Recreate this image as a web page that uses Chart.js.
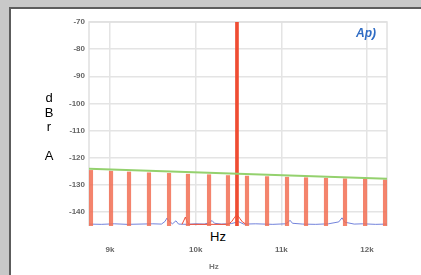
<!DOCTYPE html>
<html>
<head>
<meta charset="utf-8">
<script src="https://cdn.jsdelivr.net/npm/chart.js@4/dist/chart.umd.min.js"></script>
<style>
  html, body { margin: 0; padding: 0; }
  body { width: 421px; height: 275px; background: #c8c8c8; position: relative; overflow: hidden; font-family: "Liberation Sans", "DejaVu Sans", sans-serif; }
  #panel { position: absolute; left: 9px; top: 7px; right: 0; bottom: 0; background: #fff; border-left: 2px solid #5c5c5c; border-top: 2px solid #5c5c5c; }
  #chart { position: absolute; left: 0; top: 0; filter: blur(0.6px); }
  .box { position: absolute; background: #fff; color: #000; font-size: 13px; }
  #xtitle-box { left: 52px; top: 226px; width: 336px; height: 20px; }
  #xtitle-box span { position: absolute; left: 158px; top: 3px; }
  #ytitle { left: 40px; top: 91px; width: 18px; text-align: center; line-height: 14.5px; }
  #xtitle-blur { position: absolute; left: 209px; top: 262px; font-size: 8px; font-weight: bold; color: #777; filter: blur(0.6px); }
  #logo { position: absolute; left: 356px; top: 26px; font-size: 12px; font-weight: bold; font-style: italic; color: #2f6cc4; filter: blur(0.4px); }
</style>
</head>
<body>
<div id="panel"></div>
<canvas id="chart" width="421" height="275"></canvas>
<div id="logo">Ap&#41;</div>
<div class="box" id="ytitle">d<br>B<br>r<br>&nbsp;<br>A</div>
<div class="box" id="xtitle-box"><span>Hz</span></div>
<div id="xtitle-blur">Hz</div>
<script>
// Axis ticks
const xTicks = [9000, 10000, 11000, 12000];
const xTickLabels = ['9k', '10k', '11k', '12k'];
const yTicks = [-150, -140, -130, -120, -110, -100, -90, -80, -70];

// Main tone
const toneFreq = [10482];
const toneDb = [-70];

// Spurious components (red bars)
const spurFreq = [8778, 9012, 9222, 9455, 9689, 9910, 10156, 10377, 10599, 10833, 11066, 11288, 11521, 11743, 11977, 12210];
const spurDb = [-124.7, -125.0, -125.3, -125.6, -125.8, -126.1, -126.3, -126.6, -126.8, -127.0, -127.2, -127.4, -127.6, -127.8, -128.0, -128.2];

// Limit line (green)
const limitFreq = [8755, 12233];
const limitDb = [-124.1, -127.8];

// Noise floor, other channel (blue)
const blueFreq = [8760, 8900, 9050, 9200, 9350, 9500, 9600, 9640, 9665, 9690, 9730, 9770, 9800, 9900, 10000, 10100, 10160, 10191, 10220, 10300, 10420, 10500, 10560, 10700, 10900, 11050, 11080, 11101, 11130, 11250, 11400, 11550, 11670, 11708, 11740, 11850, 11950, 12100, 12230];
const blueDb = [-144.5, -144.6, -144.4, -144.6, -144.5, -144.4, -144.5, -143.6, -142.3, -143.5, -144.4, -143.3, -144.5, -144.6, -144.4, -144.5, -144.0, -143.2, -144.2, -144.5, -144.3, -143.6, -144.5, -144.4, -144.6, -144.4, -143.8, -143.1, -144.2, -144.5, -144.6, -144.4, -143.7, -142.2, -143.8, -144.5, -144.4, -144.6, -144.5];

// Noise skirt, red channel
const redFreq = [9840, 9865, 9880, 9895, 9920, 10380, 10420, 10450, 10470, 10482, 10495, 10515, 10545, 10590];
const redDb = [-144.6, -143.0, -141.9, -143.2, -144.6, -144.6, -143.6, -142.2, -141.4, -141.0, -141.5, -142.4, -143.7, -144.6];

const toXY = (xs, ys) => xs.map((x, i) => ({ x: x, y: ys[i] }));
const toBars = (xs, ys) => xs.map((x, i) => ({ x: x, y: [-150, ys[i]] }));

const frame = {
  id: 'frame',
  beforeDatasetsDraw(chart) {
    const a = chart.chartArea;
    const ctx = chart.ctx;
    ctx.save();
    ctx.strokeStyle = '#e0e0e0';
    ctx.lineWidth = 1.5;
    ctx.strokeRect(a.left, a.top, a.right - a.left, a.bottom - a.top);
    ctx.restore();
  }
};

new Chart(document.getElementById('chart'), {
  type: 'bar',
  data: {
    datasets: [
      {
        type: 'line',
        data: toXY(blueFreq, blueDb),
        borderColor: 'rgba(80, 100, 210, 0.8)',
        borderWidth: 1,
        pointRadius: 0,
        order: 4
      },
      {
        type: 'line',
        data: toXY(redFreq, redDb),
        borderColor: '#ee4a34',
        borderWidth: 1,
        pointRadius: 0,
        order: 3
      },
      {
        data: toBars(spurFreq, spurDb),
        backgroundColor: 'rgba(242, 110, 84, 0.85)',
        barThickness: 3.5,
        grouped: false,
        order: 2
      },
      {
        data: toBars(toneFreq, toneDb),
        backgroundColor: '#ef4d33',
        barThickness: 3,
        grouped: false,
        order: 1
      },
      {
        type: 'line',
        data: toXY(limitFreq, limitDb),
        borderColor: '#94d16e',
        borderWidth: 2,
        pointRadius: 0,
        order: 0
      }
    ]
  },
  options: {
    responsive: false,
    animation: false,
    layout: { padding: { top: 22, right: 34, left: 0, bottom: 0 } },
    plugins: { legend: { display: false }, tooltip: { enabled: false } },
    scales: {
      x: {
        type: 'linear',
        offset: false,
        min: 8755,
        max: 12233,
        afterFit: s => { s.height = 36; },
        afterBuildTicks: s => { s.ticks = xTicks.map(v => ({ value: v })); },
        grid: { color: '#e4e4e4', lineWidth: 1.5, drawTicks: false, offset: false },
        border: { display: false },
        ticks: {
          padding: 6,
          color: '#666',
          font: { family: 'Liberation Sans', size: 8, weight: 'bold' },
          maxRotation: 0,
          callback: v => xTickLabels[xTicks.indexOf(v)]
        }
      },
      y: {
        min: -150,
        max: -70,
        afterFit: s => { s.width = 89; },
        afterBuildTicks: s => { s.ticks = yTicks.map(v => ({ value: v })); },
        grid: { color: '#e4e4e4', lineWidth: 1.5, drawTicks: false },
        border: { display: false },
        ticks: {
          padding: 4,
          color: '#666',
          font: { family: 'Liberation Sans', size: 8, weight: 'bold' }
        }
      }
    }
  },
  plugins: [frame]
});
</script>
</body>
</html>
